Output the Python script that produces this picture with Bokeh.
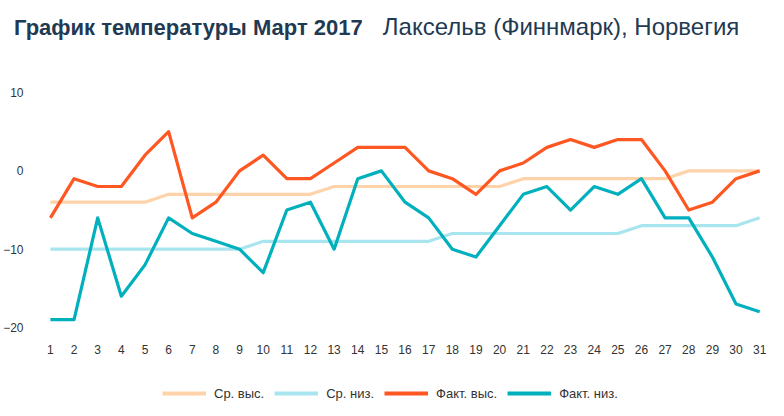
from bokeh.plotting import figure
from bokeh.layouts import column
from bokeh.models import ColumnDataSource, Range1d, FixedTicker, Legend, LegendItem, Div
from bokeh.embed import file_html
from bokeh.resources import INLINE

# March 2017, Lakselv (Finnmark), Norway
days = list(range(1, 32))
avg_high = [-4, -4, -4, -4, -4, -3, -3, -3, -3, -3, -3, -3, -2, -2, -2, -2, -2, -2, -2, -2,
            -1, -1, -1, -1, -1, -1, -1, 0, 0, 0, 0]
avg_low = [-10, -10, -10, -10, -10, -10, -10, -10, -10, -9, -9, -9, -9, -9, -9, -9, -9,
           -8, -8, -8, -8, -8, -8, -8, -8, -7, -7, -7, -7, -7, -6]
fact_high = [-6, -1, -2, -2, 2, 5, -6, -4, 0, 2, -1, -1, 1, 3, 3, 3, 0, -1, -3, 0,
             1, 3, 4, 3, 4, 4, 0, -5, -4, -1, 0]
fact_low = [-19, -19, -6, -16, -12, -6, -8, -9, -10, -13, -5, -4, -10, -1, 0, -4, -6, -10, -11, -7,
            -3, -2, -5, -2, -3, -1, -6, -6, -11, -17, -18]
y_ticks = [10, 0, -10, -20]
series = ["avg_high", "avg_low", "fact_high", "fact_low"]
series_names = ["Ср. выс.", "Ср. низ.", "Факт. выс.", "Факт. низ."]
colors = ["#ffd3aa", "#a9e5ef", "#ff5722", "#00b0bd"]

font = "Liberation Sans"

source = ColumnDataSource(dict(day=days, avg_high=avg_high, avg_low=avg_low,
                               fact_high=fact_high, fact_low=fact_low))

# title: bold part + regular part
title = Div(
    text=('<div style="white-space:nowrap;padding:10px 0 0 9px;line-height:24px;'
          'font-family:\'Liberation Sans\';color:#1f3a52">'
          '<span style="font-size:22px;font-weight:bold">График температуры Март 2017</span>'
          '<span style="font-size:24px;margin-left:20px">Лаксельв (Финнмарк), Норвегия</span>'
          '</div>'),
    width=768, height=46)

p = figure(width=768, height=304, output_backend="svg", toolbar_location=None,
           x_range=Range1d(0.496, 31.12), y_range=Range1d(-21.02, 14.6),
           min_border_left=32, min_border_right=6, min_border_top=0, min_border_bottom=25,
           background_fill_color="white", border_fill_color="white")
p.outline_line_color = None
p.grid.grid_line_color = None

for ax in (p.xaxis, p.yaxis):
    ax.axis_line_color = None
    ax.major_tick_line_color = None
    ax.minor_tick_line_color = None
    ax.major_label_text_font = font
    ax.major_label_text_font_size = "12px"
    ax.major_label_text_color = "#333333"
p.xaxis.ticker = FixedTicker(ticks=days)
p.yaxis.ticker = FixedTicker(ticks=y_ticks)
p.xaxis.major_label_standoff = 3
p.yaxis.major_label_standoff = 9

for col, color in zip(series, colors):
    p.line("day", col, source=source, line_color=color, line_width=3.2, line_join="round")

# legend strip under the chart; same series, drawn out of view so only the legend shows
pl = figure(width=768, height=44, output_backend="svg", toolbar_location=None,
            x_range=Range1d(100, 101), y_range=Range1d(100, 101),
            x_axis_type=None, y_axis_type=None,
            min_border_left=0, min_border_right=0, min_border_top=0, min_border_bottom=0,
            background_fill_color="white", border_fill_color="white")
pl.outline_line_color = None
pl.grid.grid_line_color = None
items = []
for col, name, color in zip(series, series_names, colors):
    r = pl.line("day", col, source=source, line_color=color, line_width=4)
    items.append(LegendItem(label=name, renderers=[r]))

legend = Legend(items=items, orientation="horizontal", location=(124, 1))
legend.border_line_color = None
legend.background_fill_alpha = 0
legend.padding = 0
legend.margin = 0
legend.spacing = 10
legend.glyph_width = 44
legend.glyph_height = 20
legend.label_standoff = 8
legend.label_text_font = font
legend.label_text_font_size = "13px"
legend.label_text_color = "#333333"
pl.add_layout(legend, "center")

layout = column(title, p, pl, spacing=0)

open("out.html", "w").write(file_html(layout, INLINE))
